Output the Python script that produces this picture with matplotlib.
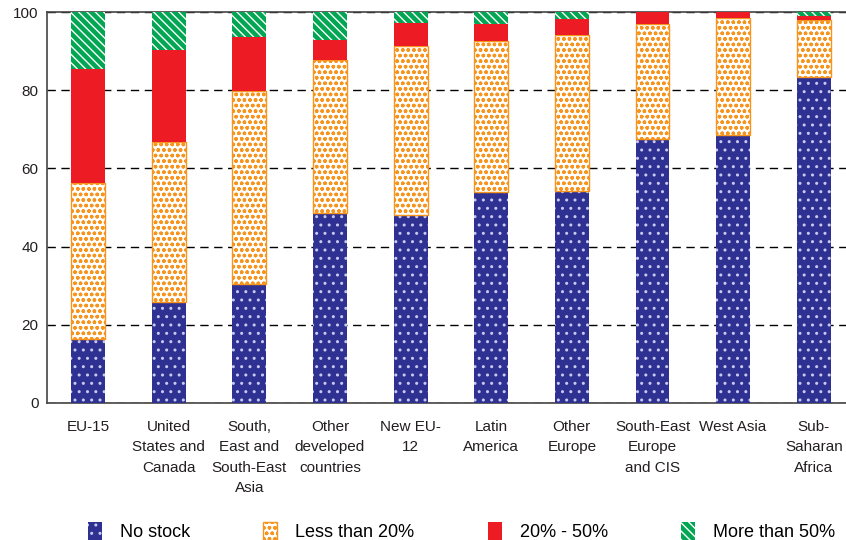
import matplotlib
matplotlib.use("Agg")
import matplotlib.pyplot as plt
from matplotlib.patches import Patch
import numpy as np

plt.rcParams['font.family'] = ['Liberation Sans', 'DejaVu Sans']

categories = ["EU-15", "United\nStates and\nCanada", "South,\nEast and\nSouth-East\nAsia",
              "Other\ndeveloped\ncountries", "New EU-\n12", "Latin\nAmerica", "Other\nEurope",
              "South-East\nEurope\nand CIS", "West Asia", "Sub-\nSaharan\nAfrica"]
no_stock = [16.4, 25.8, 30.4, 48.6, 48.1, 54.0, 54.2, 67.5, 68.5, 83.4]
less_20 = [39.9, 41.0, 49.4, 39.1, 43.2, 38.6, 39.9, 29.4, 30.0, 14.6]
pct_20_50 = [29.1, 23.6, 13.7, 5.1, 5.8, 4.3, 4.1, 3.1, 1.5, 1.1]
more_50 = [14.6, 9.6, 6.5, 7.2, 2.9, 3.1, 1.8, 0.0, 0.0, 0.9]
series_labels = ["No stock", "Less than 20%", "20% - 50%", "More than 50%"]

navy = "#2e3192"
orange = "#f7941d"
red = "#ed1c24"
green = "#00a651"

fig = plt.figure(figsize=(8.46, 5.40), dpi=100)
ax = fig.add_axes([47/846, 1-403/540, 1-47/846, (403-12)/540])

x = np.arange(len(categories))
w = 0.42
styles = [
    dict(facecolor=navy, edgecolor="#c8c8f0", hatch="..", linewidth=0),
    dict(facecolor="white", edgecolor=orange, hatch="ooo", linewidth=1.0),
    dict(facecolor=red, edgecolor=red, hatch=None, linewidth=0),
    dict(facecolor=green, edgecolor="white", hatch="\\\\\\\\", linewidth=0),
]
bottom = np.zeros(len(categories))
for vals, st in zip([no_stock, less_20, pct_20_50, more_50], styles):
    v = np.array(vals)
    ax.bar(x, v, w, bottom=bottom, zorder=3, **st)
    bottom += v

ax.set_ylim(0, 100)
ax.set_xlim(-0.51, 9.40)
ax.set_yticks([0, 20, 40, 60, 80, 100])
ax.yaxis.grid(True, linestyle=(0, (6, 4)), color="black", linewidth=1.0, zorder=0)
ax.set_axisbelow(True)
ax.set_xticks(x)
ax.set_xticklabels(categories, fontsize=11, color="#231f20", va="top", linespacing=1.6)
ax.tick_params(axis="both", length=0, labelsize=11, labelcolor="#231f20")
ax.tick_params(axis="x", pad=12)
ax.tick_params(axis="y", pad=6)
for s in ["left", "bottom", "top"]:
    ax.spines[s].set_color("#444444")
    ax.spines[s].set_linewidth(1.2)
ax.spines["right"].set_visible(False)

handles = [Patch(**st) for st in styles]
fig.legend(handles, series_labels, ncol=4, loc="lower left", bbox_to_anchor=(77/846, -0.022),
           frameon=False, fontsize=13, handlelength=0.78, handleheight=1.15,
           handletextpad=1.0, columnspacing=4.05, borderaxespad=0.2)

fig.savefig("out.png", dpi=100)
